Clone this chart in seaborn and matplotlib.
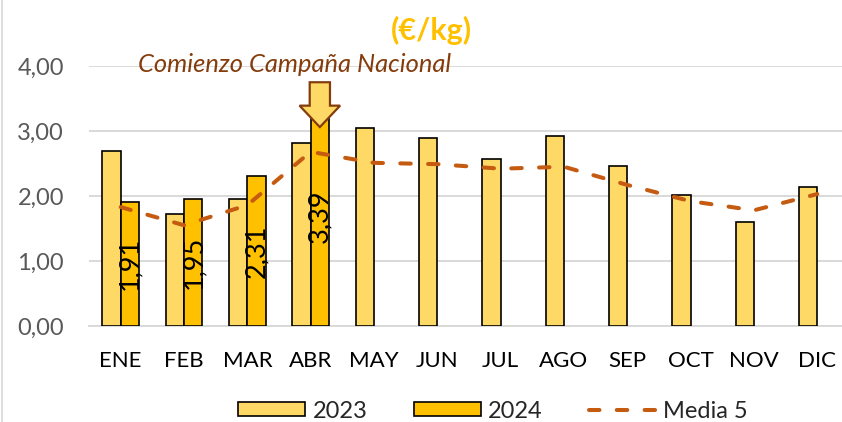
import numpy as np
import pandas as pd
import matplotlib
matplotlib.use("Agg")
import matplotlib.pyplot as plt
from matplotlib.patches import Patch, FancyArrow
from matplotlib.lines import Line2D
import seaborn as sns

# Monthly prices (€/kg)
meses = ["ENE", "FEB", "MAR", "ABR", "MAY", "JUN", "JUL", "AGO", "SEP", "OCT", "NOV", "DIC"]
precio_2023 = [2.69, 1.72, 1.96, 2.82, 3.05, 2.89, 2.57, 2.92, 2.46, 2.02, 1.60, 2.14]
precio_2024 = [1.91, 1.95, 2.31, 3.39]
media_5 = [1.83, 1.55, 1.86, 2.68, 2.51, 2.49, 2.42, 2.45, 2.17, 1.92, 1.78, 2.03]
y_ticks = [0, 1, 2, 3, 4]

sns.set_theme(style="white")
plt.rcParams["font.family"] = ["Lato", "DejaVu Sans"]

C23, C24, CLINE, CBROWN = "#FFD966", "#FFC000", "#C55A11", "#843C0C"
GRID = "#D9D9D9"
DASH = (0, (2.6, 4.3))

rows = [{"mes": m, "anio": "2023", "precio": v} for m, v in zip(meses, precio_2023)]
rows += [{"mes": m, "anio": "2024", "precio": v} for m, v in zip(meses, precio_2024)]
df = pd.DataFrame(rows)

W, H = 842, 422
fig = plt.figure(figsize=(W / 100, H / 100), dpi=100)
ax = fig.add_axes([89 / W, (H - 326) / H, (842 - 89) / W, (326 - 66) / H])

bar_w = 0.58
sns.barplot(data=df, x="mes", y="precio", hue="anio", order=meses,
            hue_order=["2023", "2024"], palette={"2023": C23, "2024": C24},
            saturation=1, width=bar_w, gap=0, edgecolor="black", linewidth=1.2,
            legend=False, ax=ax, zorder=3)

x_pos = np.arange(len(meses))
sns.lineplot(x=x_pos, y=media_5, ax=ax, color=CLINE, linewidth=2.9,
             linestyle=DASH, dash_capstyle="round", zorder=4)

# 2024 value labels, centred inside the bars and rotated
off = bar_w / 4
for i, v in enumerate(precio_2024):
    ax.text(i + off, v / 2, f"{v:.2f}".replace(".", ","), rotation=90,
            ha="center", va="center", fontsize=19.5, color="black", zorder=5)

ax.set_xlim(-0.5, (842 - 121) / 63.3)
ax.set_ylim(0, 4)
ax.set_yticks(y_ticks)
ax.set_yticklabels([f"{t:.2f}".replace(".", ",") for t in y_ticks])
ax.set_xlabel("")
ax.set_ylabel("")
ax.grid(axis="y", color=GRID, linewidth=1.4, zorder=0)
ax.set_axisbelow(True)
for s in ["top", "right", "left"]:
    ax.spines[s].set_visible(False)
ax.spines["bottom"].set_color(GRID)
ax.spines["bottom"].set_linewidth(1.4)
ax.tick_params(axis="y", length=0, pad=18, labelsize=17, labelcolor="#595959")
ax.tick_params(axis="x", length=0, pad=18, labelsize=16, labelcolor="black")

# Campaign start marker above April 2024
i_abr = meses.index("ABR")
v_abr = precio_2024[i_abr]
arrow = FancyArrow(i_abr + off, v_abr + 0.36, 0, -0.69, width=0.32,
                   head_width=0.64, head_length=0.33, length_includes_head=True,
                   facecolor=C23, edgecolor=CBROWN, linewidth=1.6,
                   zorder=6, clip_on=False)
ax.add_patch(arrow)
ax.text(2.74, 4.03, "Comienzo Campaña Nacional", style="italic", color=CBROWN,
        fontsize=18.4, ha="center", va="center", zorder=7)

fig.text(431 / W, 1 - 30 / H, "(€/kg)", color=C24, fontsize=22,
         fontweight="bold", ha="center", va="center")

# Light frame line on the left edge
fig.add_artist(Line2D([1.5 / W, 1.5 / W], [0, 1], color=GRID, linewidth=1.2,
                      transform=fig.transFigure))

handles = [Patch(facecolor=C23, edgecolor="black", linewidth=1.2, label="2023"),
           Patch(facecolor=C24, edgecolor="black", linewidth=1.2, label="2024"),
           Line2D([0], [0], color=CLINE, linewidth=2.9, linestyle=DASH,
                  dash_capstyle="round", label="Media 5")]
fig.legend(handles=handles, loc="center", bbox_to_anchor=(493 / W, 1 - 411 / H),
           ncol=3, frameon=False, fontsize=17, handlelength=2.84,
           handleheight=0.55, handletextpad=0.32, columnspacing=1.95,
           borderpad=0.1)

fig.savefig("out.png", dpi=100, facecolor="white")
